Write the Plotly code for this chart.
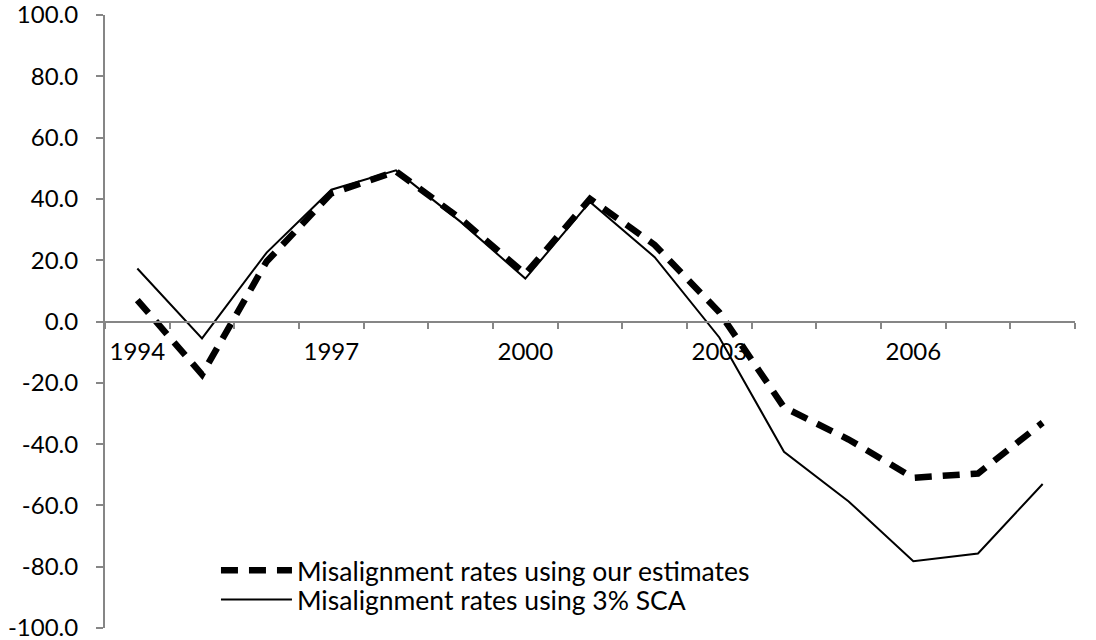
import plotly.graph_objects as go

years = list(range(1994, 2009))
our_estimates = [7, -17.3, 19.6, 41.8, 49, 33.5, 15.5, 40, 25, 3, -28, -38.5, -51, -49.6, -33]
sca_3pct = [17.3, -5.5, 22.5, 43, 49.3, 32.5, 14, 39, 21, -5.2, -42.5, -58.7, -78.2, -75.7, -53]
x_tick_labels = [1994, 1997, 2000, 2003, 2006]
y_ticks = [-100, -80, -60, -40, -20, 0, 20, 40, 60, 80, 100]

FONT = "Lato"
AXIS_GRAY = "#868686"

fig = go.Figure()
fig.add_trace(go.Scatter(
    x=years, y=our_estimates, mode="lines",
    name="Misalignment rates using our estimates",
    line=dict(color="black", width=6.5, dash="17px,11px"),
    legend="legend",
))
fig.add_trace(go.Scatter(
    x=years, y=sca_3pct, mode="lines",
    name="Misalignment rates using 3% SCA",
    line=dict(color="black", width=2),
    legend="legend2",
))

legend_common = dict(
    xanchor="left", yanchor="top",
    bgcolor="rgba(0,0,0,0)", itemwidth=71,
    font=dict(family=FONT, size=26.5, color="black"),
    tracegroupgap=0,
)

fig.update_layout(
    width=1096, height=640,
    margin=dict(l=105, r=21, t=15, b=12, autoexpand=False),
    paper_bgcolor="white", plot_bgcolor="white",
    font=dict(family=FONT, size=24, color="black"),
    showlegend=True,
    legend=dict(x=0.1144, y=0.133, **legend_common),
    legend2=dict(x=0.1144, y=0.085, **legend_common),
)

fig.update_xaxes(
    range=[min(years) - 0.5, max(years) + 0.5],
    anchor="free", position=0.5, automargin=False,
    showline=True, linecolor=AXIS_GRAY, linewidth=2,
    showgrid=False, zeroline=False,
    tickmode="array", tickvals=x_tick_labels,
    ticktext=[str(v) for v in x_tick_labels],
    ticks="", ticklabelstandoff=9,
    minor=dict(tick0=min(years) - 0.5, dtick=1, ticks="outside",
               ticklen=6, tickcolor=AXIS_GRAY, tickwidth=2, showgrid=False),
    tickfont=dict(family=FONT, size=24, color="black"),
)
fig.update_yaxes(
    range=[-100, 100], automargin=False,
    showline=True, linecolor=AXIS_GRAY, linewidth=2,
    showgrid=False, zeroline=False,
    tickmode="array", tickvals=y_ticks,
    ticktext=[f"{v:.1f}" for v in y_ticks],
    ticks="outside", ticklen=7, tickcolor=AXIS_GRAY, tickwidth=2,
    ticklabelstandoff=13, ticklabeloverflow="allow",
    tickfont=dict(family=FONT, size=24, color="black"),
)

fig.write_html("out.html", config={"displayModeBar": False},
               post_script="document.body.style.margin='0';")
